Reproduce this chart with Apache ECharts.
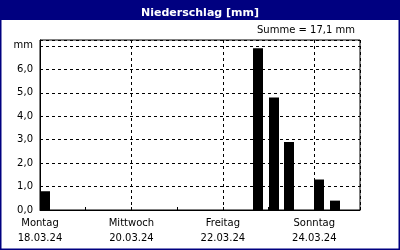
<!DOCTYPE html>
<html>
<head>
<meta charset="utf-8">
<script src="https://cdn.jsdelivr.net/npm/echarts@6/dist/echarts.min.js"></script>
<style>
html,body{margin:0;padding:0;background:#fff;}
#c{width:400px;height:250px;}
</style>
</head>
<body>
<div id="c"></div>
<script>
// Data
const titleText = 'Niederschlag [mm]';
const sumText = 'Summe = 17,1 mm';
const dayNames = ['Montag', 'Mittwoch', 'Freitag', 'Sonntag'];
const dayDates = ['18.03.24', '20.03.24', '22.03.24', '24.03.24'];
const binStartHours = [0, 112, 120, 128, 144, 152]; // start of 8-hour bins, hours since Mon 18.03.24 00:00
const precipValues = [0.8, 6.9, 4.8, 2.9, 1.3, 0.4];
const binHours = 8;
const yTickValues = [0, 1, 2, 3, 4, 5, 6, 7];
const yUnitLabel = 'mm';

const FONT = 'DejaVu Sans';
const chart = echarts.init(document.getElementById('c'), null, {renderer: 'canvas'});

const data = binStartHours.map((h, i) => [h, precipValues[i]]);

chart.setOption({
  animation: false,
  backgroundColor: '#ffffff',
  title: {
    text: titleText,
    left: 'center',
    top: 3,
    textStyle: {color: '#ffffff', fontFamily: FONT, fontSize: 11, fontWeight: 'bold'}
  },
  graphic: [
    {type: 'rect', shape: {x: 0, y: 0, width: 400, height: 20}, style: {fill: '#000080'}, z: -10},
    {type: 'rect', shape: {x: 0.75, y: 0.75, width: 398.5, height: 248.5}, style: {fill: null, stroke: '#000080', lineWidth: 1.5}, z: 100},
    {type: 'text', right: 45, top: 25, style: {text: sumText, fill: '#000', font: '10px "DejaVu Sans"'}}
  ],
  grid: {left: 40, right: 40, top: 40, bottom: 40, show: true, borderColor: '#000', borderWidth: 1},
  xAxis: {
    type: 'value',
    min: 0,
    max: 168,
    interval: 48,
    axisLine: {show: true, lineStyle: {color: '#000', width: 1}},
    axisTick: {show: true, inside: true, length: 3, lineStyle: {color: '#000'}},
    minorTick: {show: true, splitNumber: 2, length: 3, lineStyle: {color: '#000'}},
    splitLine: {show: true, lineStyle: {color: '#000', type: [3, 3], width: 1}},
    axisLabel: {
      color: '#000', fontFamily: FONT, fontSize: 10, lineHeight: 15, margin: 6,
      showMaxLabel: false,
      formatter: function (v) {
        const i = v / 48;
        if (Number.isInteger(i) && i < dayNames.length) return dayNames[i] + '\n' + dayDates[i];
        return '';
      }
    }
  },
  yAxis: {
    type: 'value',
    min: 0,
    max: 7.25,
    interval: 1,
    axisLine: {show: true, lineStyle: {color: '#000', width: 1}},
    axisTick: {show: false},
    splitLine: {show: true, lineStyle: {color: '#000', type: [3, 3], width: 1}},
    axisLabel: {
      color: '#000', fontFamily: FONT, fontSize: 10, margin: 7,
      showMaxLabel: false,
      formatter: function (v) {
        if (yTickValues.indexOf(v) < 0) return '';
        if (v === 7) return yUnitLabel;
        return v.toFixed(1).replace('.', ',');
      }
    }
  },
  series: [{
    type: 'custom',
    data: data,
    encode: {x: 0, y: 1},
    renderItem: function (params, api) {
      const start = api.value(0);
      const val = api.value(1);
      const p0 = api.coord([start, 0]);
      const p1 = api.coord([start + binHours, val]);
      const w = (p1[0] - p0[0]) * 0.66;
      return {
        type: 'rect',
        shape: {x: Math.round(p0[0]), y: p1[1], width: Math.round(w), height: p0[1] - p1[1]},
        style: {fill: '#000'}
      };
    },
    z: 3
  }]
});
</script>
</body>
</html>
